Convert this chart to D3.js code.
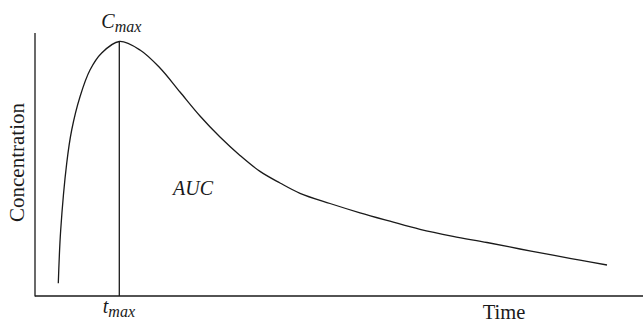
<!DOCTYPE html>
<html>
<head>
<meta charset="utf-8">
<script src="https://cdn.jsdelivr.net/npm/d3@7"></script>
<style>
  html, body { margin: 0; padding: 0; background: #fff; }
  svg { display: block; }
  text { font-family: "Liberation Serif", "DejaVu Serif", serif; fill: #1a1a1a; }
</style>
</head>
<body>
<svg id="chart" width="643" height="321"></svg>
<script>
// Concentration–time profile after a single oral dose (arbitrary units)
const time = [1.165, 1.285, 1.585, 1.835, 2.25, 2.75, 3.335, 4.215, 5.25, 6.25, 7.25, 8.25,
              9.25, 10.25, 11.25, 12.25, 13.25, 14.75, 16.25, 17.75, 19.25, 20.9, 22.6,
              24.25, 25.9, 27.25, 28.6];
const concentration = [0.635, 3.3, 6.635, 8.3, 9.965, 11.3, 12.15, 12.725, 12.3, 11.4, 10.2, 9.0,
                       7.95, 7.03, 6.23, 5.65, 5.135, 4.625, 4.16, 3.74, 3.335, 2.985, 2.675,
                       2.35, 2.04, 1.79, 1.55];
const tMax = 4.215;
const cMax = 12.725;
const axisTitles = ["Time", "Concentration"];
const annotations = ["AUC"];

const svg = d3.select("#chart");
const ink = "#1a1a1a";

const x = d3.scaleLinear().domain([0, 30.4]).range([35, 643]);
const y = d3.scaleLinear().domain([0, 13.15]).range([296, 33]);

// Axes: plain lines, no ticks
svg.append("line")
  .attr("x1", x(0)).attr("x2", x(0))
  .attr("y1", y(13.15)).attr("y2", y(0) + 0.6)
  .attr("stroke", ink).attr("stroke-width", 1.3);
svg.append("line")
  .attr("x1", x(0)).attr("x2", x(30.4))
  .attr("y1", y(0)).attr("y2", y(0))
  .attr("stroke", ink).attr("stroke-width", 1.3);

// Concentration curve
const pts = time.map((t, i) => [t, concentration[i]]);
const line = d3.line()
  .x(d => x(d[0]))
  .y(d => y(d[1]))
  .curve(d3.curveCatmullRom.alpha(0.5));
svg.append("path")
  .datum(pts)
  .attr("d", line)
  .attr("fill", "none")
  .attr("stroke", ink)
  .attr("stroke-width", 1.3);

// Drop line from the peak to the time axis
svg.append("line")
  .attr("x1", x(tMax)).attr("x2", x(tMax))
  .attr("y1", y(cMax)).attr("y2", y(0))
  .attr("stroke", ink).attr("stroke-width", 1.3);

// C_max label above the peak
const cLab = svg.append("text")
  .attr("x", x(tMax) - 18).attr("y", 28)
  .attr("font-style", "italic").attr("font-size", 20);
cLab.append("tspan").text("C");
cLab.append("tspan").attr("dy", 3.5).attr("font-size", 16).text("max");

// t_max label below the axis
const tLab = svg.append("text")
  .attr("x", x(tMax) - 16.5).attr("y", 313)
  .attr("font-style", "italic").attr("font-size", 20);
tLab.append("tspan").text("t");
tLab.append("tspan").attr("dy", 3.5).attr("font-size", 16).text("max");

// Axis titles
svg.append("text")
  .attr("x", 504).attr("y", 318.5)
  .attr("text-anchor", "middle").attr("font-size", 20.5)
  .text(axisTitles[0]);
svg.append("text")
  .attr("transform", "translate(24,162.5) rotate(-90)")
  .attr("text-anchor", "middle").attr("font-size", 21)
  .text(axisTitles[1]);

// Area-under-curve annotation
svg.append("text")
  .attr("x", 173).attr("y", 195)
  .attr("font-style", "italic").attr("font-size", 20)
  .text(annotations[0]);
</script>
</body>
</html>
